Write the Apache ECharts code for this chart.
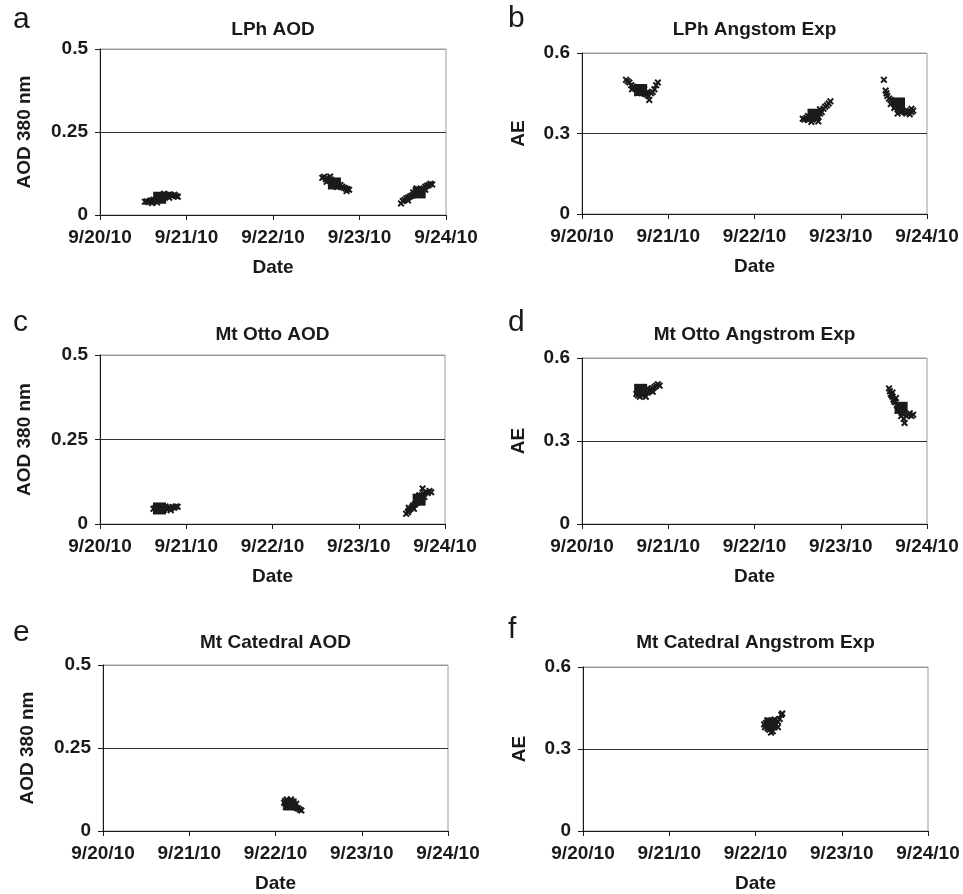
<!DOCTYPE html>
<html>
<head>
<meta charset="utf-8">
<script src="https://cdn.jsdelivr.net/npm/echarts@6/dist/echarts.min.js"></script>
<style>
  html, body { margin: 0; padding: 0; background: #fff; }
  #chart { width: 963px; height: 894px; }
</style>
</head>
<body>
<div id="chart"></div>
<script>
const dayStart = 20
const dateTicks = ['9/20/10', '9/21/10', '9/22/10', '9/23/10', '9/24/10']
const aodTicks = [0, 0.25, 0.5]
const aeTicks = [0, 0.3, 0.6]

const lphAod = [
  [20.52, 0.040], [20.54, 0.041], [20.56, 0.039], [20.58, 0.043], [20.60, 0.044], [20.62, 0.046],
  [20.64, 0.045], [20.66, 0.048], [20.68, 0.050], [20.70, 0.052], [20.72, 0.055], [20.74, 0.056],
  [20.76, 0.058], [20.78, 0.060], [20.80, 0.062], [20.82, 0.060], [20.84, 0.058], [20.86, 0.061],
  [20.88, 0.057], [20.90, 0.055], [20.60, 0.036], [20.66, 0.038], [20.74, 0.064], [20.80, 0.052],
  [22.57, 0.112], [22.59, 0.115], [22.61, 0.108], [22.63, 0.110], [22.65, 0.104], [22.67, 0.107],
  [22.69, 0.100], [22.71, 0.098], [22.73, 0.095], [22.75, 0.092], [22.76, 0.088], [22.78, 0.090],
  [22.80, 0.085], [22.82, 0.082], [22.84, 0.080], [22.86, 0.078], [22.88, 0.076], [22.62, 0.100],
  [22.66, 0.116], [22.74, 0.084], [22.85, 0.072],
  [23.48, 0.035], [23.50, 0.042], [23.52, 0.045], [23.54, 0.050], [23.56, 0.052], [23.58, 0.055],
  [23.60, 0.058], [23.62, 0.060], [23.64, 0.063], [23.66, 0.066], [23.68, 0.070], [23.70, 0.072],
  [23.72, 0.075], [23.74, 0.080], [23.76, 0.085], [23.78, 0.088], [23.80, 0.090], [23.82, 0.094],
  [23.84, 0.092], [23.56, 0.044], [23.62, 0.068], [23.66, 0.080], [23.72, 0.064], [23.76, 0.076]
]
const lphAodMean = [[20.69, 0.052], [22.71, 0.095], [23.69, 0.068]]

const lphAe = [
  [20.51, 0.500], [20.53, 0.495], [20.55, 0.490], [20.57, 0.480], [20.59, 0.475], [20.61, 0.470],
  [20.63, 0.465], [20.65, 0.460], [20.67, 0.455], [20.69, 0.455], [20.71, 0.450], [20.73, 0.448],
  [20.75, 0.445], [20.77, 0.440], [20.78, 0.425], [20.80, 0.450], [20.82, 0.455], [20.84, 0.465],
  [20.86, 0.480], [20.88, 0.490], [20.58, 0.465], [20.64, 0.450], [20.72, 0.465], [20.76, 0.455],
  [22.56, 0.355], [22.58, 0.352], [22.60, 0.358], [22.62, 0.350], [22.64, 0.360], [22.66, 0.355],
  [22.68, 0.365], [22.70, 0.360], [22.72, 0.352], [22.74, 0.362], [22.76, 0.375], [22.78, 0.380],
  [22.80, 0.392], [22.82, 0.400], [22.84, 0.405], [22.86, 0.412], [22.88, 0.420], [22.62, 0.365],
  [22.66, 0.343], [22.74, 0.345], [22.76, 0.390],
  [23.50, 0.500], [23.52, 0.460], [23.53, 0.450], [23.54, 0.440], [23.56, 0.430], [23.58, 0.425],
  [23.60, 0.420], [23.62, 0.410], [23.64, 0.400], [23.66, 0.390], [23.68, 0.385], [23.70, 0.380],
  [23.72, 0.385], [23.74, 0.380], [23.76, 0.375], [23.78, 0.380], [23.80, 0.385], [23.82, 0.380],
  [23.84, 0.385], [23.58, 0.410], [23.62, 0.395], [23.66, 0.375], [23.80, 0.372], [23.82, 0.392]
]
const lphAeMean = [[20.68, 0.462], [22.69, 0.370], [23.67, 0.412]]

const ottoAod = [
  [20.62, 0.045], [20.64, 0.047], [20.66, 0.044], [20.68, 0.046], [20.72, 0.045], [20.74, 0.042],
  [20.76, 0.047], [20.78, 0.044], [20.80, 0.049], [20.82, 0.046], [20.84, 0.050], [20.86, 0.048],
  [20.88, 0.052], [20.90, 0.051], [20.76, 0.052], [20.82, 0.041],
  [23.55, 0.030], [23.57, 0.035], [23.58, 0.040], [23.60, 0.045], [23.62, 0.050], [23.63, 0.055],
  [23.65, 0.058], [23.67, 0.062], [23.69, 0.068], [23.71, 0.075], [23.73, 0.085], [23.74, 0.105],
  [23.76, 0.090], [23.78, 0.095], [23.80, 0.092], [23.82, 0.098], [23.84, 0.094], [23.58, 0.048],
  [23.64, 0.045], [23.70, 0.085], [23.76, 0.080]
]
const ottoAodMean = [[20.69, 0.046], [23.70, 0.072]]

const ottoAe = [
  [20.63, 0.470], [20.65, 0.465], [20.67, 0.460], [20.70, 0.465], [20.72, 0.470], [20.74, 0.460],
  [20.76, 0.475], [20.78, 0.480], [20.80, 0.485], [20.82, 0.490], [20.84, 0.495], [20.86, 0.500],
  [20.88, 0.505], [20.90, 0.500], [20.76, 0.490], [20.82, 0.478],
  [23.56, 0.490], [23.57, 0.480], [23.58, 0.470], [23.59, 0.465], [23.60, 0.460], [23.61, 0.450],
  [23.62, 0.445], [23.63, 0.440], [23.65, 0.430], [23.67, 0.425], [23.69, 0.410], [23.71, 0.400],
  [23.73, 0.380], [23.74, 0.365], [23.76, 0.390], [23.78, 0.395], [23.80, 0.400], [23.82, 0.390],
  [23.84, 0.395], [23.60, 0.475], [23.64, 0.455], [23.66, 0.410], [23.70, 0.390]
]
const ottoAeMean = [[20.68, 0.485], [23.70, 0.420]]

const catedralAod = [
  [22.10, 0.085], [22.11, 0.090], [22.12, 0.080], [22.13, 0.095], [22.14, 0.085], [22.15, 0.078],
  [22.16, 0.088], [22.17, 0.082], [22.18, 0.075], [22.19, 0.085], [22.20, 0.080], [22.21, 0.072],
  [22.22, 0.078], [22.24, 0.070], [22.26, 0.068], [22.28, 0.065], [22.30, 0.062], [22.12, 0.072],
  [22.18, 0.095], [22.24, 0.082]
]
const catedralAodMean = [[22.17, 0.080]]

const catedralAe = [
  [22.10, 0.390], [22.11, 0.380], [22.12, 0.395], [22.13, 0.385], [22.14, 0.375], [22.16, 0.370],
  [22.18, 0.360], [22.20, 0.365], [22.22, 0.380], [22.24, 0.390], [22.26, 0.400], [22.28, 0.410],
  [22.30, 0.425], [22.31, 0.430], [22.14, 0.405], [22.22, 0.408], [22.26, 0.380]
]
const catedralAeMean = [[22.18, 0.393]]

const font = '"Liberation Sans", Arial, sans-serif'
const ink = '#1a1a1a'
const crossPath = 'path://M0,2L2,0L5,3L8,0L10,2L7,5L10,8L8,10L5,7L2,10L0,8L3,5Z'

const panels = [
  { letter: 'a', title: 'LPh AOD', yName: 'AOD 380 nm', ticks: aodTicks, pts: lphAod, means: lphAodMean,
    grid: { left: 100, top: 49, width: 346, height: 166 }, letterPos: [13, 5], titleTop: 20, nameGap: 66 },
  { letter: 'b', title: 'LPh Angstom Exp', yName: 'AE', ticks: aeTicks, pts: lphAe, means: lphAeMean,
    grid: { left: 582, top: 53, width: 345, height: 161 }, letterPos: [508, 4], titleTop: 20, nameGap: 54 },
  { letter: 'c', title: 'Mt Otto AOD', yName: 'AOD 380 nm', ticks: aodTicks, pts: ottoAod, means: ottoAodMean,
    grid: { left: 100, top: 355, width: 345, height: 169 }, letterPos: [13, 308], titleTop: 325, nameGap: 66 },
  { letter: 'd', title: 'Mt Otto Angstrom Exp', yName: 'AE', ticks: aeTicks, pts: ottoAe, means: ottoAeMean,
    grid: { left: 582, top: 358, width: 345, height: 166 }, letterPos: [508, 308], titleTop: 325, nameGap: 54 },
  { letter: 'e', title: 'Mt Catedral AOD', yName: 'AOD 380 nm', ticks: aodTicks, pts: catedralAod, means: catedralAodMean,
    grid: { left: 103, top: 665, width: 345, height: 167 }, letterPos: [13, 618], titleTop: 633, nameGap: 66 },
  { letter: 'f', title: 'Mt Catedral Angstrom Exp', yName: 'AE', ticks: aeTicks, pts: catedralAe, means: catedralAeMean,
    grid: { left: 583, top: 667, width: 345, height: 166 }, letterPos: [508, 615], titleTop: 633, nameGap: 54 }
]

const textStyle = { fontFamily: font, fontWeight: 'bold', fontSize: 19, color: ink }

const option = {
  animation: false,
  backgroundColor: '#fff',
  title: panels.map((p) => ({
    text: p.title,
    left: p.grid.left + p.grid.width / 2,
    top: p.titleTop,
    textAlign: 'center',
    padding: 0,
    textStyle: { ...textStyle }
  })),
  graphic: panels.map((p) => ({
    type: 'text',
    left: p.letterPos[0],
    top: p.letterPos[1],
    style: { text: p.letter, font: `30px ${font}`, fill: ink }
  })),
  grid: panels.map((p) => ({
    ...p.grid,
    show: true,
    borderColor: '#9c9c9c',
    borderWidth: 1,
    backgroundColor: 'transparent'
  })),
  xAxis: panels.map((p, i) => ({
    type: 'value',
    gridIndex: i,
    min: dayStart,
    max: dayStart + dateTicks.length - 1,
    interval: 1,
    name: 'Date',
    nameLocation: 'middle',
    nameGap: 43,
    nameTextStyle: { ...textStyle },
    axisLine: { show: true, onZero: false, lineStyle: { color: ink, width: 1 } },
    axisTick: { show: true, inside: false, length: 5, lineStyle: { color: ink } },
    axisLabel: {
      ...textStyle,
      margin: 13,
      showMaxLabel: true,
      formatter: (v) => dateTicks[Math.round(v - dayStart)]
    },
    splitLine: { show: false }
  })),
  yAxis: panels.map((p, i) => ({
    type: 'value',
    gridIndex: i,
    min: p.ticks[0],
    max: p.ticks[p.ticks.length - 1],
    interval: p.ticks[1] - p.ticks[0],
    name: p.yName,
    nameLocation: 'middle',
    nameGap: p.nameGap,
    nameTextStyle: { ...textStyle },
    axisLine: { show: true, onZero: false, lineStyle: { color: ink, width: 1 } },
    axisTick: { show: true, inside: false, length: 5, lineStyle: { color: ink } },
    axisLabel: { ...textStyle, margin: 12 },
    splitLine: { show: true, lineStyle: { color: [ink, '#333', '#9c9c9c'], width: 1 } }
  })),
  series: panels.flatMap((p, i) => [
    {
      type: 'scatter',
      xAxisIndex: i,
      yAxisIndex: i,
      data: p.pts,
      symbol: crossPath,
      symbolSize: 7,
      itemStyle: { color: ink, opacity: 1 },
      silent: true
    },
    {
      type: 'scatter',
      xAxisIndex: i,
      yAxisIndex: i,
      data: p.means,
      symbol: 'rect',
      symbolSize: [13, 12],
      itemStyle: { color: ink, opacity: 1 },
      silent: true
    }
  ])
}

const chart = echarts.init(document.getElementById('chart'), null, { renderer: 'canvas' })
chart.setOption(option)
</script>
</body>
</html>
